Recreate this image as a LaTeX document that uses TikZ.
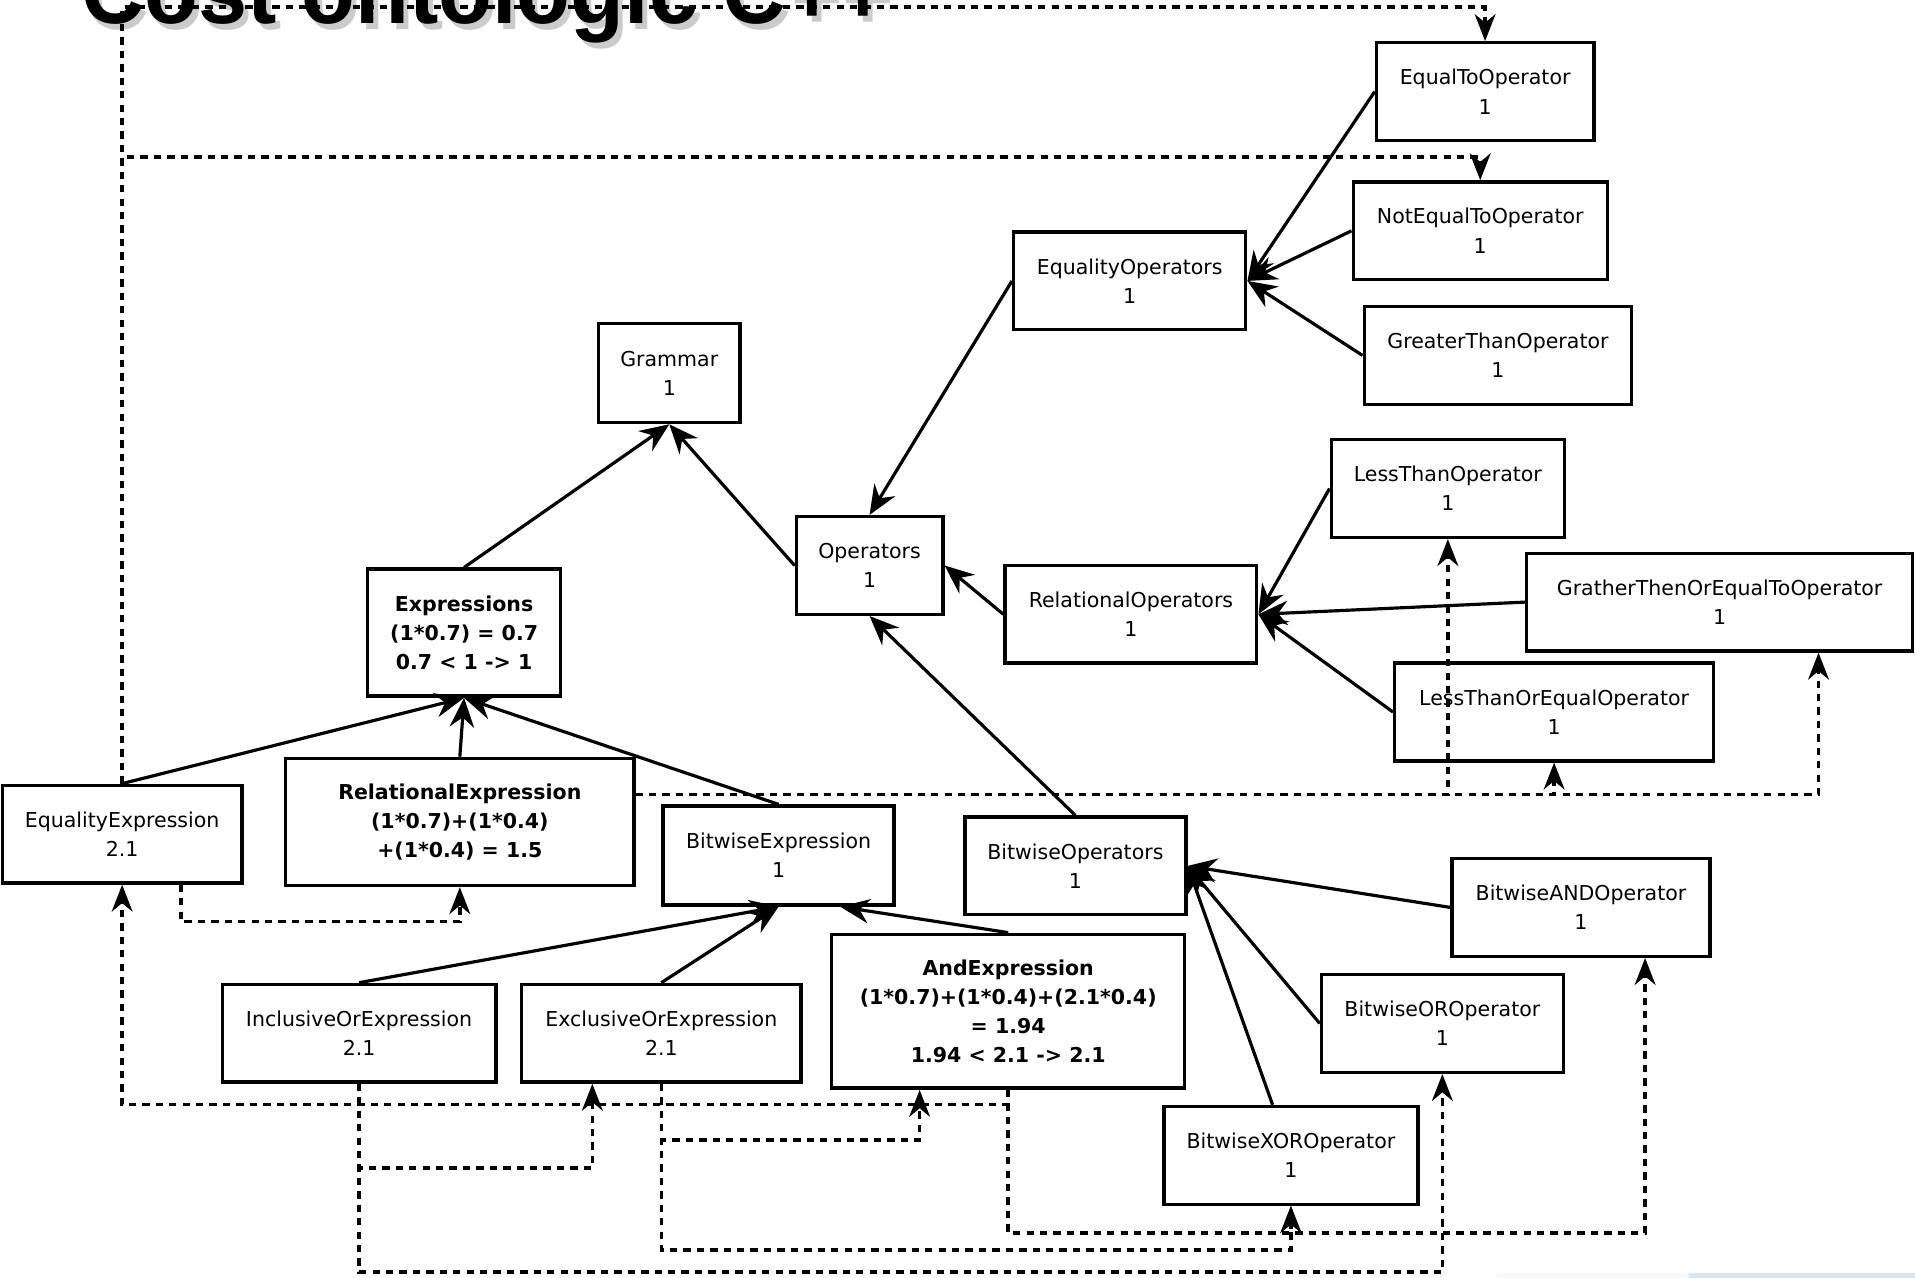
\documentclass[tikz,border=0pt]{standalone}
\usepackage{fontspec}
\setmainfont{DejaVu Sans}
\newfontfamily\titlefont{Liberation Sans}
\usetikzlibrary{arrows.meta,calc}
\begin{document}
\begin{tikzpicture}[x=0.5pt,y=-0.5pt,
  box/.style={draw, line width=1.4pt, inner sep=0pt, align=center, fill=white,
    font=\fontsize{8.4}{12}\selectfont},
  bbox/.style={box, font=\fontsize{8.4}{11.8}\selectfont\bfseries},
  con/.style={line width=1.3pt, -{Stealth[length=12pt,width=10pt,inset=4pt]}},
  dep/.style={line width=1.5pt, dash pattern=on 3pt off 2.5pt, -{Stealth[length=11pt,width=8.5pt,inset=3.5pt]}},
  ttl/.style={anchor=base west, inner sep=0pt, xscale=0.95, transform shape,
    font=\titlefont\bfseries\fontsize{38}{38}\selectfont}
]
\useasboundingbox (0,0) rectangle (1568,1046);
\clip (0,0) rectangle (1568,1046);

% title (cut off at the top)
\node[ttl, text=black!45, opacity=0.45] (titleshadow) at (70,24) {Cost ontologic C++};
\node[ttl] (title) at (66,19) {Cost ontologic C++};

% faint strip at the bottom right
\fill[color={rgb,255:red,245;green,248;blue,251}] (1225,1042) rectangle (1383,1046);
\fill[color={rgb,255:red,214;green,230;blue,245}] (1383,1042) rectangle (1568,1046);

% nodes
\node[box, minimum width=89pt,   minimum height=40pt]   (EQ)      at (1216,75)    {EqualToOperator\\1};
\node[box, minimum width=104pt,  minimum height=40pt]   (NEQ)     at (1212,189)   {NotEqualToOperator\\1};
\node[box, minimum width=95pt,   minimum height=40pt]   (EQOPS)   at (925,230)    {EqualityOperators\\1};
\node[box, minimum width=109.5pt,minimum height=40pt]   (GT)      at (1226.5,291) {GreaterThanOperator\\1};
\node[box, minimum width=58pt,   minimum height=40.5pt] (GR)      at (548,305.5)  {Grammar\\1};
\node[box, minimum width=95.5pt, minimum height=40pt]   (LT)      at (1185.5,400) {LessThanOperator\\1};
\node[box, minimum width=60pt,   minimum height=40pt]   (OPS)     at (712,463)    {Operators\\1};
\node[box, minimum width=103pt,  minimum height=40pt]   (RELOPS)  at (926,503)    {RelationalOperators\\1};
\node[box, minimum width=158pt,  minimum height=40pt]   (GTE)     at (1408,493)   {GratherThenOrEqualToOperator\\1};
\node[box, minimum width=130.5pt,minimum height=40pt]   (LTE)     at (1272.5,583) {LessThanOrEqualOperator\\1};
\node[bbox,minimum width=79pt,   minimum height=52pt]   (EXPR)    at (380,518)    {Expressions\\(1*0.7) = 0.7\\0.7 < 1 -> 1};
\node[box, minimum width=98pt,   minimum height=40pt]   (EQEXPR)  at (100,683)    {EqualityExpression\\2.1};
\node[bbox,minimum width=142.5pt,minimum height=52pt]   (RELEXPR) at (376.5,673)  {RelationalExpression\\(1*0.7)+(1*0.4)\\+(1*0.4) = 1.5};
\node[box, minimum width=94.5pt, minimum height=40.5pt] (BWEXPR)  at (637.5,700.5){BitwiseExpression\\1};
\node[box, minimum width=90.5pt, minimum height=40pt]   (BWOPS)   at (880.5,709)  {BitwiseOperators\\1};
\node[box, minimum width=105.5pt,minimum height=40pt]   (BAND)    at (1294.5,743) {BitwiseANDOperator\\1};
\node[box, minimum width=112pt,  minimum height=40pt]   (IOR)     at (294,846)    {InclusiveOrExpression\\2.1};
\node[box, minimum width=114.5pt,minimum height=40pt]   (XOR)     at (541.5,846)  {ExclusiveOrExpression\\2.1};
\node[bbox,minimum width=144.5pt,minimum height=63pt]   (ANDEXPR) at (825.5,828)  {AndExpression\\(1*0.7)+(1*0.4)+(2.1*0.4)\\= 1.94\\1.94 < 2.1 -> 2.1};
\node[box, minimum width=99pt,   minimum height=40pt]   (BOR)     at (1181,838)   {BitwiseOROperator\\1};
\node[box, minimum width=104pt,  minimum height=40pt]   (BXOR)    at (1057,946)   {BitwiseXOROperator\\1};

% dashed dependencies
\draw[dep] (EQEXPR.north) |- ($(EQ.north)+(0,-28)$) -- (EQ.north);
\draw[dep] (EQEXPR.north) |- ($(NEQ.north)+(0,-19)$) -- (NEQ.north);
\draw[dep] ($(EQEXPR.south)+(48,0)$) -- ++(0,30) -| (RELEXPR.south);
\coordinate (rl) at ($(RELEXPR.north east)+(0,31)$);
\draw[dep] (rl) -| ($(GTE.south)+(81,0)$);
\draw[dep] (rl) -| (LTE.south);
\draw[dep] (rl) -| (LT.south);
\draw[dep] (ANDEXPR.south) -- ++(0,12) -| (EQEXPR.south);
\draw[dep] (ANDEXPR.south) -- ++(0,117) -| ($(BAND.south)+(52.5,0)$);
\draw[dep] (ANDEXPR.south) -- ++(0,117) -| (BXOR.south);
\draw[dep] (IOR.south) -- ++(0,69) -| ($(XOR.south)+(-56.5,0)$);
\draw[dep] (IOR.south) -- ++(0,154) -| (BOR.south);
\draw[dep] (XOR.south) -- ++(0,46) -| ($(ANDEXPR.south)+(-72.5,0)$);
\draw[dep] (XOR.south) -- ++(0,136) -| (BXOR.south);

% solid connectors
\draw[con] (EXPR.north) -- (GR.south);
\draw[con] (OPS.west) -- (GR.south);
\draw[con] (EQOPS.west) -- (OPS.north);
\draw[con] (EQ.west) -- (EQOPS.east);
\draw[con] (NEQ.west) -- (EQOPS.east);
\draw[con] (GT.west) -- (EQOPS.east);
\draw[con] (RELOPS.west) -- (OPS.east);
\draw[con] (LT.west) -- (RELOPS.east);
\draw[con] (GTE.west) -- (RELOPS.east);
\draw[con] (LTE.west) -- (RELOPS.east);
\draw[con] (BWOPS.north) -- (OPS.south);
\draw[con] (EQEXPR.north) -- (EXPR.south);
\draw[con] (RELEXPR.north) -- (EXPR.south);
\draw[con] (BWEXPR.north) -- (EXPR.south);
\draw[con] (IOR.north) -- (BWEXPR.south);
\draw[con] (XOR.north) -- (BWEXPR.south);
\draw[con] (ANDEXPR.north) -- ($(BWEXPR.south)+(50.5,0)$);
\draw[con] (BAND.west) -- (BWOPS.east);
\draw[con] (BOR.west) -- (BWOPS.east);
\draw[con] ($(BXOR.north)+(-15,0)$) -- (BWOPS.east);
\end{tikzpicture}
\end{document}
